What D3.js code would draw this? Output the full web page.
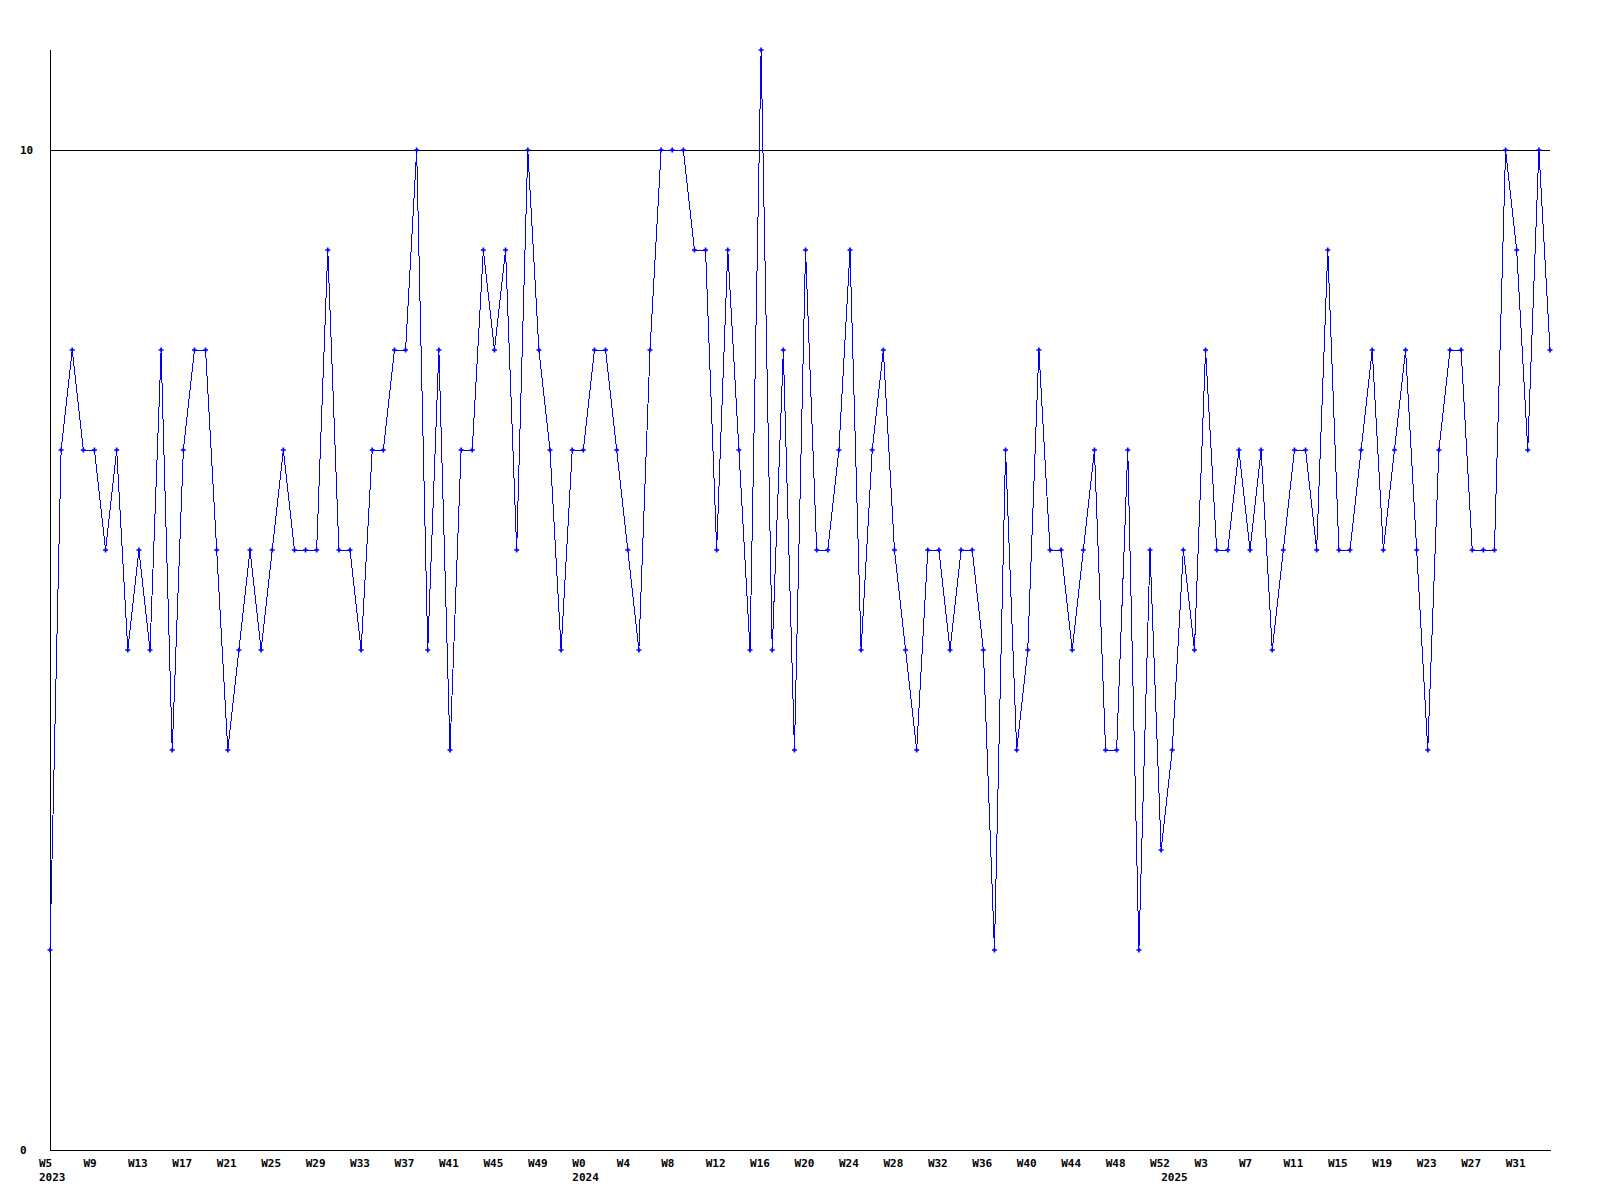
<!DOCTYPE html>
<html>
<head>
<meta charset="utf-8">
<script src="https://cdn.jsdelivr.net/npm/d3@7/dist/d3.min.js"></script>
<style>
  body { margin: 0; background: #fff; }
  text { font-family: "DejaVu Sans Mono", "Liberation Mono", monospace; font-weight: bold; font-size: 11px; fill: #000; }
</style>
</head>
<body>
<svg id="chart" width="1600" height="1200"></svg>
<script>
// ---- data ----
// year, first week number, last week number (weekly points)
const yearSpans = [[2023, 5, 52], [2024, 0, 52], [2025, 0, 34]];
const values = [
  2,7,8,7,7,6,7,5,6,5,8,4,7,8,8,6,4,5,6,5,6,7,6,
  6,6,9,6,6,5,7,7,8,8,10,5,8,4,7,7,9,8,9,6,10,8,7,
  5,7,7,8,8,7,6,5,8,10,10,10,9,9,6,9,7,5,11,5,8,4,
  9,6,6,7,9,5,7,8,6,5,4,6,6,5,6,6,5,2,7,4,5,8,6,
  6,5,6,7,4,4,7,2,6,3,4,6,5,8,6,6,7,6,7,5,6,7,
  7,6,9,6,6,7,8,6,7,8,6,4,7,8,8,6,6,6,10,9,7,10,8
];
const yTickValues = [0, 10];
const gridValues = [10];
const tickEvery = 4;

// categories
const categories = [];
yearSpans.forEach(([yr, w0, w1]) => {
  for (let w = w0; w <= w1; w++) categories.push({ year: yr, week: w, first: w === w0 });
});
const data = categories.map((c, i) => ({ ...c, i, v: values[i] }));

// ---- layout ----
const svg = d3.select("#chart");
const x = d3.scaleLinear().domain([0, data.length - 1]).range([50, 1550]);
const y = d3.scaleLinear().domain([0, 11]).range([1150, 50]);

// gridline at 10
svg.append("g").selectAll("line").data(gridValues).join("line")
  .attr("x1", x(0)).attr("x2", x(data.length - 1))
  .attr("y1", d => Math.round(y(d)) + 0.5).attr("y2", d => Math.round(y(d)) + 0.5)
  .attr("stroke", "#000").attr("stroke-width", 1);

// axes lines
svg.append("line").attr("x1", x(0) + 0.5).attr("x2", x(0) + 0.5)
  .attr("y1", y(11)).attr("y2", y(0) + 0.5).attr("stroke", "#000");
svg.append("line").attr("x1", x(0)).attr("x2", x(data.length - 1) + 1)
  .attr("y1", y(0) + 0.5).attr("y2", y(0) + 0.5).attr("stroke", "#000");

// y labels
svg.append("g").selectAll("text").data(yTickValues).join("text")
  .attr("x", 20).attr("y", d => y(d) + 4).text(d => d);

// x labels
const ticks = data.filter(d => d.i % tickEvery === 0);
svg.append("g").selectAll("text").data(ticks).join("text")
  .attr("x", d => x(d.i) - 11).attr("y", 1167).text(d => "W" + d.week);
svg.append("g").selectAll("text").data(data.filter(d => d.first)).join("text")
  .attr("x", d => x(d.i) - 11).attr("y", 1181).text(d => d.year);

// line
const line = d3.line().x(d => x(d.i)).y(d => y(d.v));
svg.append("path").datum(data)
  .attr("d", line).attr("fill", "none").attr("stroke", "#0000ff")
  .attr("stroke-width", 1).attr("shape-rendering", "crispEdges");

// markers
const sym = d3.symbol().type(d3.symbolCross).size(14);
svg.append("g").selectAll("path").data(data).join("path")
  .attr("transform", d => `translate(${x(d.i)},${y(d.v)})`)
  .attr("d", sym).attr("fill", "#0000ff");
</script>
</body>
</html>
